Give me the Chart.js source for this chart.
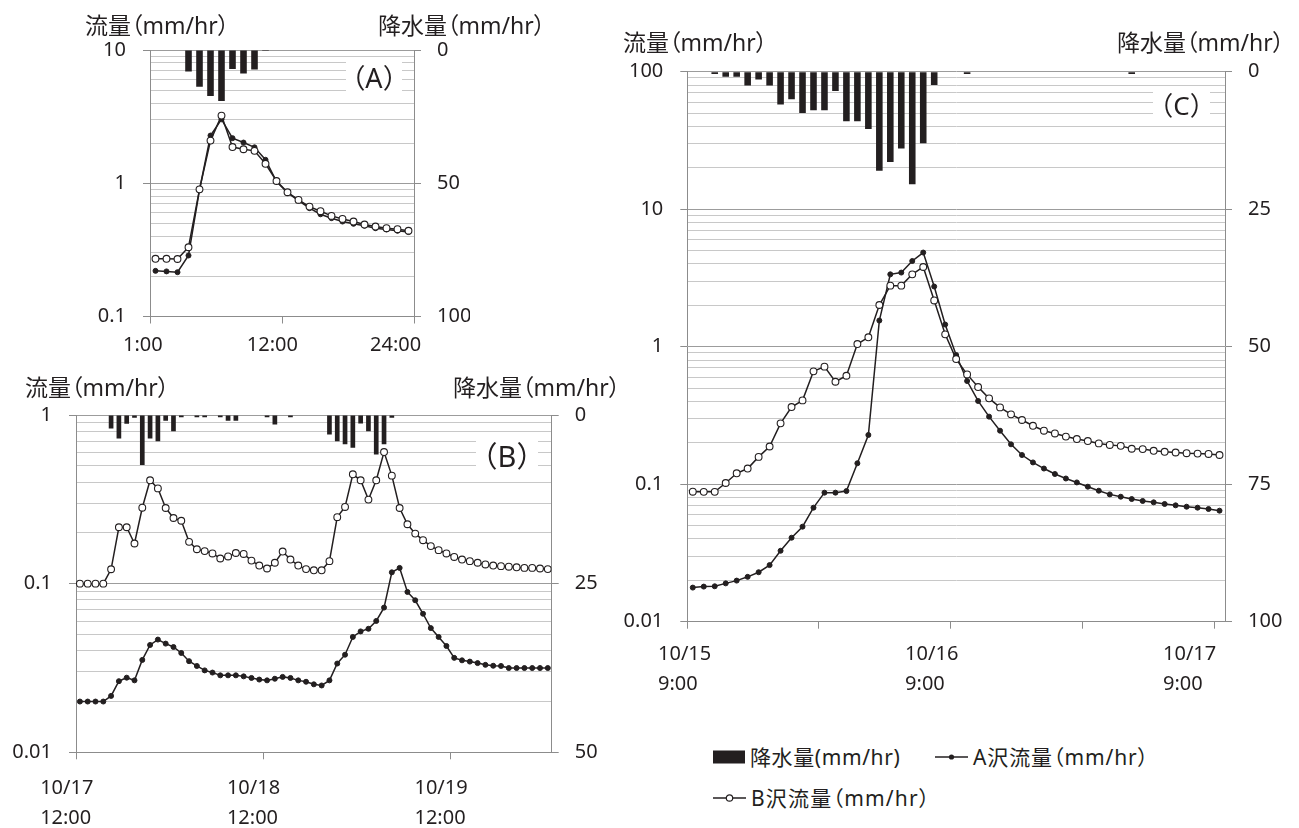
<!DOCTYPE html>
<html>
<head>
<meta charset="utf-8">
<script src="https://cdn.jsdelivr.net/npm/chart.js@4.4.1/dist/chart.umd.min.js"></script>
<style>
  body { margin: 0; width: 1299px; height: 828px; position: relative; overflow: hidden; background: #fff;
         font-family: "Noto Sans", "Noto Sans CJK JP", sans-serif; color: #231f20; }
  canvas { position: absolute; }
  .ttl { position: absolute; font-size: 23px; line-height: 24px; white-space: nowrap; font-feature-settings: "palt"; }
  .tag { position: absolute; background: #fff; display: flex; justify-content: center; align-items: center; white-space: nowrap; }
  .leg { position: absolute; font-size: 21px; line-height: 22px; white-space: nowrap; display: flex; align-items: center; font-feature-settings: "palt"; }
  .leg svg { margin-right: 5px; }
</style>
</head>
<body>
<canvas id="chartA" width="470" height="370" style="left:0;top:0;width:470px;height:370px"></canvas>
<canvas id="chartB" width="620" height="458" style="left:0;top:370px;width:620px;height:458px"></canvas>
<canvas id="chartC" width="699" height="700" style="left:600px;top:0;width:699px;height:700px"></canvas>

<div class="ttl" style="left:85px;top:13px">流量（mm/hr）</div>
<div class="ttl" style="left:378px;top:13px">降水量（mm/hr）</div>
<div class="ttl" style="left:25px;top:375px">流量（mm/hr）</div>
<div class="ttl" style="left:453px;top:375px">降水量（mm/hr）</div>
<div class="ttl" style="left:623px;top:30px">流量（mm/hr）</div>
<div class="ttl" style="left:1117px;top:30px">降水量（mm/hr）</div>

<div class="tag" style="left:346px;top:59px;width:56px;height:34px;font-size:27px">（A）</div>
<div class="tag" style="left:476px;top:439px;width:62px;height:30px;font-size:29px">（B）</div>
<div class="tag" style="left:1153px;top:89px;width:57px;height:30px;font-size:26px">（C）</div>

<div class="leg" style="left:713px;top:746px"><svg width="32" height="14"><rect x="0" y="0.5" width="32" height="13" fill="#231f20"/></svg><span style="letter-spacing:0.6px">降水量(mm/hr)</span></div>
<div class="leg" style="left:935px;top:746px"><svg width="33" height="14"><line x1="0" y1="7" x2="33" y2="7" stroke="#231f20" stroke-width="1.5"/><circle cx="16.5" cy="7" r="2.6" fill="#231f20"/></svg><span style="letter-spacing:0.9px">A沢流量（mm/hr）</span></div>
<div class="leg" style="left:713px;top:787px"><svg width="33" height="14"><line x1="0" y1="7" x2="33" y2="7" stroke="#231f20" stroke-width="1.5"/><circle cx="16.5" cy="7" r="3.2" fill="#fff" stroke="#231f20" stroke-width="1.2"/></svg><span style="letter-spacing:1.2px">B沢流量（mm/hr）</span></div>

<script>
// (A) hourly 1:00 - 24:00
const rainA  = [0, 0, 0, 8.1, 13.8, 17.3, 19.1, 7.1, 8.8, 7.3, 0.4, 0, 0, 0, 0, 0, 0, 0, 0, 0, 0, 0, 0, 0];
const flowAA = [0.22, 0.218, 0.215, 0.287, 0.89, 2.28, 3.02, 2.18, 2.02, 1.86, 1.5, 1.03, 0.85, 0.74, 0.65, 0.585, 0.547, 0.516, 0.496, 0.48, 0.46, 0.45, 0.44, 0.43];
const flowAB = [0.271, 0.271, 0.27, 0.331, 0.9, 2.09, 3.22, 1.87, 1.8, 1.75, 1.4, 1.04, 0.856, 0.75, 0.668, 0.617, 0.569, 0.54, 0.516, 0.49, 0.473, 0.46, 0.452, 0.44];
const labelsA = ['1:00', '12:00', '24:00'];

// (B) hourly from 10/17 12:00
const rainB = [0, 0, 0, 0, 2.0, 3.5, 1.3, 0.4, 7.4, 3.5, 3.9, 0.85, 2.4, 0.35, 0, 0.35, 0.35, 0, 0.35, 0.85, 0.85, 0, 0, 0,
  0.35, 1.4, 0, 0.35, 0, 0, 0, 0, 2.9, 3.9, 4.35, 4.85, 1.25, 2.4, 5.85, 4.35, 0.4,
  0, 0, 0, 0, 0, 0, 0, 0, 0, 0, 0, 0, 0, 0, 0, 0, 0, 0, 0, 0];
const flowBA = [0.02, 0.02, 0.02, 0.02, 0.0216, 0.0264, 0.0277, 0.0267, 0.0353, 0.0433, 0.0466, 0.0441, 0.0421, 0.0388, 0.0347, 0.0325,
  0.0306, 0.0297, 0.0286, 0.0286, 0.0286, 0.0282, 0.0276, 0.027, 0.0267, 0.0273, 0.028, 0.0276, 0.0267, 0.0262, 0.0253, 0.0249, 0.0267,
  0.0336, 0.0379, 0.0483, 0.0521, 0.054, 0.0601, 0.0721, 0.1167, 0.124, 0.0893, 0.0797, 0.0663, 0.0545, 0.0483, 0.0427, 0.0363,
  0.0351, 0.0345, 0.0338, 0.033, 0.0326, 0.0325, 0.0316, 0.0316, 0.0316, 0.0316, 0.0316, 0.0316];
const flowBB = [0.1, 0.1, 0.1, 0.1, 0.1217, 0.216, 0.216, 0.173, 0.282, 0.41, 0.367, 0.281, 0.245, 0.236, 0.177, 0.16,
  0.156, 0.151, 0.141, 0.145, 0.152, 0.15, 0.137, 0.128, 0.123, 0.133, 0.155, 0.139, 0.128, 0.122, 0.12, 0.12, 0.136,
  0.248, 0.285, 0.445, 0.41, 0.315, 0.41, 0.603, 0.437, 0.281, 0.225, 0.198, 0.181, 0.167, 0.158, 0.151, 0.144,
  0.139, 0.136, 0.133, 0.13, 0.128, 0.127, 0.126, 0.125, 0.124, 0.124, 0.123, 0.122];
const labelsB = [['10/17', '12:00'], ['10/18', '12:00'], ['10/19', '12:00']];

// (C) hourly from 10/15 9:00
const rainC = [0, 0, 0.4, 0.9, 0.9, 2.5, 1.4, 2.5, 5.95, 5.0, 7.5, 7.0, 7.0, 3.5, 9.0, 9.0, 10.4, 18.0, 16.4, 13.95, 20.45, 13.0, 2.4, 0, 0,
  0.4, 0, 0, 0, 0, 0, 0, 0, 0, 0, 0, 0, 0, 0, 0, 0.4, 0, 0, 0, 0, 0, 0, 0, 0];
const flowCA = [0.0177, 0.018, 0.0181, 0.019, 0.0199, 0.0212, 0.0229, 0.0258, 0.0328, 0.0408, 0.0491, 0.0675, 0.0868, 0.0868, 0.0891,
  0.142, 0.228, 1.55, 3.36, 3.46, 4.2, 4.84, 2.74, 1.45, 0.87, 0.563, 0.403, 0.31, 0.245, 0.195, 0.163, 0.144, 0.13, 0.1186,
  0.11, 0.103, 0.0959, 0.0897, 0.0843, 0.0811, 0.078, 0.0755, 0.0738, 0.0718, 0.0702, 0.0686, 0.0675, 0.066, 0.0642];
const flowCB = [0.0882, 0.088, 0.088, 0.102, 0.12, 0.13, 0.158, 0.188, 0.277, 0.364, 0.407, 0.662, 0.716, 0.556, 0.615,
  1.045, 1.17, 2.01, 2.78, 2.78, 3.36, 3.8, 2.17, 1.23, 0.813, 0.629, 0.509, 0.421, 0.362, 0.322, 0.293, 0.266, 0.245,
  0.234, 0.222, 0.213, 0.206, 0.198, 0.193, 0.19, 0.181, 0.18, 0.175, 0.172, 0.17, 0.168, 0.167, 0.166, 0.163];
const labelsC = [['10/15', '9:00'], ['10/16', '9:00'], ['10/17', '9:00']];

const INK = '#231f20';
const AXIS = '#8c8c8c';
const MAJOR = '#9c9c9c';
const MINOR = '#c8c8c8';
const FONT = '"Noto Sans", "Noto Sans CJK JP", sans-serif';

Chart.defaults.font.family = FONT;
Chart.defaults.color = INK;

const panels = [
  { id: 'chartA', rain: rainA, flowA: flowAA, flowB: flowAB, labels: labelsA,
    labelAt: [-2.45, 8.8, 20.0], marks: [0, 12, 24], yMin: 0.1, yMax: 10, rMax: 100, rStep: 50,
    left: 150, right: 56, top: 50, bottom: 53.5, labelPad: 6.5 },
  { id: 'chartB', rain: rainB, flowA: flowBA, flowB: flowBB, labels: labelsB,
    labelAt: [-4.6, 19.35, 43.4], marks: [0, 24, 48], yMin: 0.01, yMax: 1, rMax: 50, rStep: 25,
    left: 76, right: 68.3, top: 45, bottom: 75.7, labelPad: 14 },
  { id: 'chartC', rain: rainC, flowA: flowCA, flowB: flowCB, labels: labelsC,
    labelAt: [-2.67, 19.85, 43.35], marks: [0, 12, 24, 36, 48], yMin: 0.01, yMax: 100, rMax: 100, rStep: 25,
    left: 87.3, right: 74, top: 71.7, bottom: 78.3, labelPad: 11 }
];

function isDecade(v) {
  const lg = Math.log10(v);
  return Math.abs(lg - Math.round(lg)) < 1e-6;
}

function logTicks(scale) {
  const ticks = [];
  for (let d = scale.min; d < scale.max * 0.999; d *= 10) {
    for (let k = 1; k < 10; k++) ticks.push({ value: +(d * k).toPrecision(6) });
  }
  ticks.push({ value: scale.max });
  scale.ticks = ticks;
}

function buildPanel(p) {
  const n = p.rain.length;
  const pts = arr => arr.map((v, i) => ({ x: i + 0.5, y: v }));

  new Chart(document.getElementById(p.id), {
    type: 'line',
    data: {
      datasets: [
        { type: 'line', label: 'B沢流量', data: pts(p.flowB), xAxisID: 'x', yAxisID: 'y', order: 1,
          borderColor: INK, borderWidth: 1.5, tension: 0,
          pointRadius: 3.4, pointBackgroundColor: '#fff', pointBorderColor: INK, pointBorderWidth: 1.1 },
        { type: 'line', label: 'A沢流量', data: pts(p.flowA), xAxisID: 'x', yAxisID: 'y', order: 2,
          borderColor: INK, borderWidth: 1.5, tension: 0,
          pointRadius: 2.5, pointBackgroundColor: INK, pointBorderColor: INK, pointBorderWidth: 1 },
        { type: 'bar', label: '降水量', data: pts(p.rain), xAxisID: 'x', yAxisID: 'y2', order: 3,
          backgroundColor: INK, borderWidth: 0, barPercentage: 0.6, categoryPercentage: 1 }
      ]
    },
    options: {
      responsive: false,
      animation: false,
      devicePixelRatio: 1,
      layout: { padding: { top: p.top, left: 0, right: 0, bottom: 0 } },
      plugins: { legend: { display: false }, tooltip: { enabled: false } },
      scales: {
        x: {
          type: 'linear', position: 'bottom', min: 0, max: n, weight: 0, offset: false,
          afterBuildTicks: s => { s.ticks = p.marks.map(v => ({ value: v })); },
          afterFit: s => { s.height = 7; },
          ticks: { display: false },
          grid: { offset: false, drawOnChartArea: false, tickLength: 7, color: AXIS },
          border: { display: true, color: AXIS }
        },
        xl: {
          type: 'linear', position: 'bottom', min: 0, max: n, weight: 1, offset: false,
          afterBuildTicks: s => { s.ticks = p.labelAt.map(v => ({ value: v })); },
          afterFit: s => { s.height = p.bottom - 7; },
          grid: { display: false, drawTicks: false, tickLength: 0 },
          border: { display: false },
          ticks: { autoSkip: false, maxRotation: 0, align: 'start', padding: p.labelPad, color: INK,
                   font: { size: 20, lineHeight: 1.5 }, callback: (v, i) => p.labels[i] }
        },
        y: {
          type: 'logarithmic', position: 'left', min: p.yMin, max: p.yMax,
          afterBuildTicks: logTicks,
          afterFit: s => { s.width = p.left; },
          ticks: { autoSkip: false, padding: 17, color: INK, font: { size: 20 },
                   callback: v => isDecade(v) ? String(v) : '' },
          grid: { tickLength: 7, lineWidth: 1,
                  color: c => (c.tick && isDecade(c.tick.value)) ? MAJOR : MINOR,
                  tickColor: c => (c.tick && isDecade(c.tick.value)) ? AXIS : 'rgba(0,0,0,0)' },
          border: { display: true, color: AXIS }
        },
        y2: {
          type: 'linear', position: 'right', reverse: true, min: 0, max: p.rMax,
          afterFit: s => { s.width = p.right; },
          ticks: { stepSize: p.rStep, padding: 16, color: INK, font: { size: 20 } },
          grid: { drawOnChartArea: false, tickLength: 7, color: AXIS },
          border: { display: true, color: AXIS }
        }
      }
    }
  });
}

panels.forEach(buildPanel);
</script>
</body>
</html>
